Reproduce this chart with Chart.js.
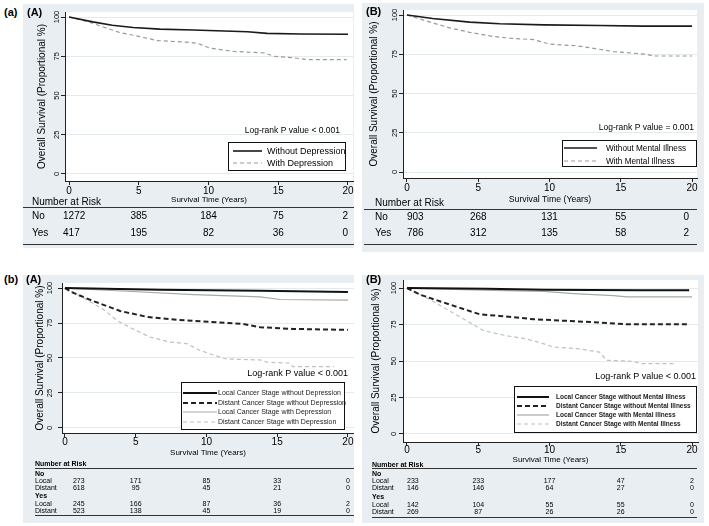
<!DOCTYPE html>
<html>
<head>
<meta charset="utf-8">
<script src="https://cdn.jsdelivr.net/npm/chart.js@4.4.1/dist/chart.umd.min.js"></script>
<style>
  body { margin: 0; width: 709px; height: 526px; background: #fff; position: relative; overflow: hidden;
         font-family: "Liberation Sans", Arial, sans-serif; }
  canvas { position: absolute; background: #e8eef1; }
  .tag { position: absolute; font: bold 11px "Liberation Sans", Arial, sans-serif; color: #000; }
</style>
</head>
<body>
<div class="tag" style="left:4px;top:6px">(a)</div>
<div class="tag" style="left:4px;top:273px">(b)</div>
<canvas id="cAA" width="331" height="244" style="left:23px;top:4px"></canvas>
<canvas id="cAB" width="342" height="249" style="left:362px;top:3px"></canvas>
<canvas id="cBA" width="331" height="248" style="left:23px;top:275px"></canvas>
<canvas id="cBB" width="342" height="248" style="left:362px;top:275px"></canvas>
<div class="tag" style="left:27px;top:6px">(A)</div>
<div class="tag" style="left:366px;top:5px">(B)</div>
<div class="tag" style="left:26px;top:273px">(A)</div>
<div class="tag" style="left:366px;top:273px">(B)</div>

<script>
// axes
var xTicks = [0, 5, 10, 15, 20];
var yTicks = [0, 25, 50, 75, 100];

// (a)(A) depression
var aaTimeNo  = [0, 1.7, 3.1, 4.6, 6.5, 8.9, 12.8, 14.2, 16.6, 20];
var aaSurvNo  = [100, 96.9, 94.8, 93.3, 92.3, 91.7, 90.6, 89.6, 89.2, 89];
var aaTimeYes = [0, 1.4, 2.4, 3.6, 5.1, 6.3, 8.4, 9.2, 10.1, 11.8, 14, 14.7, 16.1, 17.1, 19.9];
var aaSurvYes = [100, 96.9, 93.8, 90.2, 87.5, 85, 84, 83.3, 80.2, 78.1, 77.1, 75, 74, 72.9, 72.9];
var aaRiskNo  = [1272, 385, 184, 75, 2];
var aaRiskYes = [417, 195, 82, 36, 0];

// (a)(B) mental illness
var abTimeNo  = [0, 1.8, 4.4, 6.5, 9.6, 13.5, 16.6, 20];
var abSurvNo  = [100, 97.8, 95.5, 94.4, 93.75, 93.3, 92.9, 92.9];
var abTimeYes = [0, 1.4, 3, 4.4, 6, 7.2, 8.9, 10, 11.9, 13, 14.5, 16.8, 17.3, 20];
var abSurvYes = [100, 96.1, 91.8, 89, 86.4, 85.3, 84.3, 81.5, 80.4, 78.9, 76.7, 75, 73.9, 73.9];
var abRiskNo  = [903, 268, 131, 55, 0];
var abRiskYes = [786, 312, 135, 58, 2];

// (b)(A) stage x depression
var baTimeLocNo  = [0, 6.7, 13.8, 20];
var baSurvLocNo  = [100, 98.8, 98.1, 97.2];
var baTimeDisNo  = [0, 0.6, 2, 3.9, 5.8, 7.9, 10.2, 12.6, 13.8, 16.1, 20];
var baSurvDisNo  = [100, 96.5, 90.7, 83.6, 79.4, 77.3, 75.9, 74.3, 72, 70.8, 70.1];
var baTimeLocYes = [0, 4.4, 9.1, 13.8, 15.2, 20];
var baSurvLocYes = [100, 97.7, 95.3, 93.7, 91.8, 91.4];
var baTimeDisYes = [0, 1.5, 2.7, 3.7, 4.8, 6, 7.4, 8.6, 9.5, 10.5, 11.4, 13.8, 14.3, 15.9, 16.1, 19];
var baSurvDisYes = [100, 91.8, 84.8, 76.6, 70.8, 65, 61.4, 60.3, 55.6, 52.1, 49.3, 48.6, 47, 46.3, 43.9, 43.9];
var baRiskNoLoc  = [273, 171, 85, 33, 0];
var baRiskNoDis  = [618, 95, 45, 21, 0];
var baRiskYesLoc = [245, 166, 87, 36, 2];
var baRiskYesDis = [523, 138, 45, 19, 0];

// (b)(B) stage x mental illness
var bbTimeLocNo  = [0, 5.6, 9.6, 16.4, 19.8];
var bbSurvLocNo  = [100, 99.5, 98.9, 98.4, 98.4];
var bbTimeDisNo  = [0, 0.9, 3, 5.1, 6.5, 8.9, 11.2, 13.5, 15.4, 19.8];
var bbSurvDisNo  = [100, 95.5, 88.7, 82, 80.9, 78.6, 77.5, 76.4, 75.2, 75.2];
var bbTimeLocYes = [0, 6, 9.6, 11.7, 14.5, 15.4, 20];
var bbSurvLocYes = [100, 98.4, 97.7, 96.2, 94.8, 93.9, 93.9];
var bbTimeDisYes = [0, 1.4, 3, 4.2, 5.4, 7, 8.4, 9.1, 10.3, 12.1, 13.5, 14, 15.9, 16.4, 18.9];
var bbSurvDisYes = [100, 93.2, 84.2, 77.5, 70.7, 67.3, 65.1, 63.3, 59.5, 58.3, 56.1, 50.5, 49.8, 48.2, 48.2];
var bbRiskNoLoc  = [233, 233, 177, 47, 2];
var bbRiskNoDis  = [146, 146, 64, 27, 0];
var bbRiskYesLoc = [142, 104, 55, 55, 0];
var bbRiskYesDis = [269, 87, 26, 26, 0];

var FONT = '"Liberation Sans", Arial, sans-serif';

function pts(t, s) {
    return t.map(function (v, i) { return { x: v, y: s[i] }; });
}

function line(label, t, s, color, width, dash) {
    return { label: label, data: pts(t, s), borderColor: color, borderWidth: width,
             borderDash: dash || [], pointRadius: 0, fill: false, tension: 0 };
}

// legend box, p-value text and number-at-risk table, drawn after the chart
function extrasPlugin(o) {
    return {
        id: 'kmExtras',
        beforeDraw: function (chart) {
            var a = chart.chartArea, c = chart.ctx;
            c.save();
            c.fillStyle = '#fff';
            c.fillRect(a.left, a.top, a.right - a.left, a.bottom - a.top);
            c.restore();
        },
        afterDraw: function (chart) {
            var c = chart.ctx, xs = chart.scales.x;
            c.save();
            c.textBaseline = 'middle';

            // p value
            c.fillStyle = '#000';
            c.font = o.pSize + 'px ' + FONT;
            c.textAlign = 'right';
            c.fillText(o.pText, o.pX, o.pY);

            // legend
            var L = o.legend;
            c.fillStyle = '#fff';
            c.fillRect(L.x, L.y, L.w, L.h);
            c.strokeStyle = '#111';
            c.lineWidth = 1;
            c.strokeRect(L.x + 0.5, L.y + 0.5, L.w, L.h);
            c.font = L.font + FONT;
            c.textAlign = 'left';
            chart.data.datasets.forEach(function (ds, i) {
                var y = L.rows[i];
                c.beginPath();
                c.setLineDash(ds.borderDash);
                c.strokeStyle = ds.borderColor;
                c.lineWidth = ds.borderWidth;
                c.moveTo(L.x1, y);
                c.lineTo(L.x2, y);
                c.stroke();
                c.setLineDash([]);
                c.fillStyle = L.color || '#000';
                c.fillText(ds.label, L.tx, y + 0.5);
            });

            // number at risk table
            var T = o.table;
            c.fillStyle = '#000';
            c.font = T.headFont + FONT;
            c.textAlign = 'left';
            c.fillText('Number at Risk', T.labelX, T.headY);
            c.strokeStyle = '#333';
            c.lineWidth = 1;
            c.beginPath();
            c.moveTo(T.x1, T.lineY + 0.5); c.lineTo(T.x2, T.lineY + 0.5);
            c.moveTo(T.x1, T.bottomY + 0.5); c.lineTo(T.x2, T.bottomY + 0.5);
            c.stroke();
            T.rows.forEach(function (r) {
                c.font = (r.bold ? 'bold ' : '') + T.font + FONT;
                c.textAlign = 'left';
                c.fillText(r.label, T.labelX, r.y);
                if (!r.values) return;
                c.font = T.font + FONT;
                r.values.forEach(function (v, j) {
                    var px = xs.getPixelForValue(xTicks[j]);
                    if (j === 0) { c.textAlign = 'left'; px += T.firstOff; }
                    else if (j === r.values.length - 1) { c.textAlign = 'right'; px += T.lastOff; }
                    else c.textAlign = 'center';
                    c.fillText(String(v), px, r.y);
                });
            });
            c.restore();
        }
    };
}

function kmChart(id, datasets, o) {
    return new Chart(document.getElementById(id), {
        type: 'line',
        data: { datasets: datasets },
        options: {
            responsive: false,
            animation: false,
            layout: { padding: o.pad },
            plugins: { legend: { display: false }, tooltip: { enabled: false } },
            scales: {
                x: {
                    type: 'linear', min: o.xMin, max: o.xMax,
                    afterBuildTicks: function (s) { s.ticks = xTicks.map(function (v) { return { value: v }; }); },
                    afterFit: function (s) { s.height = 28; },
                    grid: { drawOnChartArea: false, tickLength: 4, tickColor: '#222' },
                    border: { color: '#222', width: 1 },
                    ticks: { color: '#000', font: { family: FONT, size: 10 }, padding: o.xTickPad, maxRotation: 0 },
                    title: { display: true, text: 'Survival Time (Years)', color: '#000',
                             font: { family: FONT, size: o.xTitleSize }, padding: { top: 0, bottom: o.xTitlePad } }
                },
                y: {
                    type: 'linear', min: o.yMin, max: o.yMax,
                    afterBuildTicks: function (s) { s.ticks = yTicks.map(function (v) { return { value: v }; }); },
                    afterFit: function (s) { s.width = o.yW; },
                    grid: { color: '#e3ebee', tickColor: '#222', tickLength: 4 },
                    border: { color: '#222', width: 1 },
                    ticks: { color: '#000', font: { family: FONT, size: 7.5 }, padding: o.yTickPad,
                             minRotation: 90, maxRotation: 90, crossAlign: 'center' },
                    title: { display: true, text: 'Overall Survival (Proportional %)', color: '#000',
                             font: { family: FONT, size: 10 }, padding: { top: 4, bottom: 0 } }
                }
            }
        },
        plugins: [extrasPlugin(o)]
    });
}

// (a)(A)
kmChart('cAA', [
    line('Without Depression', aaTimeNo, aaSurvNo, '#1a1a1a', 1.6),
    line('With Depression', aaTimeYes, aaSurvYes, '#9a9a9a', 1.2, [4, 3])
], {
    pad: { left: 9, right: 1, top: 8, bottom: 39 }, yW: 33,
    xMin: -0.29, xMax: 20.36, yMin: -4.5, yMax: 103.2,
    xTickPad: 0, xTitleSize: 8, xTitlePad: 4, yTickPad: -2,
    pText: 'Log-rank P value < 0.001', pSize: 8.5, pX: 317, pY: 127,
    legend: { x: 205, y: 138, w: 117, h: 28, rows: [147, 159], x1: 210, x2: 239, tx: 244, font: '9px ' },
    table: { headFont: '10px ', font: '10px ', labelX: 9, headY: 198, lineY: 203, bottomY: 240, x1: 0, x2: 331,
             firstOff: -6, lastOff: 0,
             rows: [ { label: 'No', y: 212, values: aaRiskNo }, { label: 'Yes', y: 229, values: aaRiskYes } ] }
});

// (a)(B)
kmChart('cAB', [
    line('Without Mental Illness', abTimeNo, abSurvNo, '#1a1a1a', 1.6),
    line('With Mental Illness', abTimeYes, abSurvYes, '#9a9a9a', 1.2, [4, 3])
], {
    pad: { left: 2, right: 7, top: 7, bottom: 46 }, yW: 39,
    xMin: -0.28, xMax: 20.35, yMin: -3.8, yMax: 103.2,
    xTickPad: 0, xTitleSize: 8.7, xTitlePad: 1, yTickPad: -2,
    pText: 'Log-rank P value = 0.001', pSize: 8.5, pX: 332, pY: 125,
    legend: { x: 200, y: 137, w: 134, h: 26, rows: [145, 158], x1: 202, x2: 235, tx: 244, font: '8.2px ' },
    table: { headFont: '10px ', font: '10px ', labelX: 13, headY: 200, lineY: 206, bottomY: 241, x1: 2, x2: 335,
             firstOff: 0, lastOff: -3,
             rows: [ { label: 'No', y: 214, values: abRiskNo }, { label: 'Yes', y: 230, values: abRiskYes } ] }
});

// (b)(A)
kmChart('cBA', [
    line('Local Cancer Stage without Depression', baTimeLocNo, baSurvLocNo, '#111', 2),
    line('Distant Cancer Stage without Depression', baTimeDisNo, baSurvDisNo, '#222', 2, [5, 3]),
    line('Local Cancer Stage with Depression', baTimeLocYes, baSurvLocYes, '#a8a8a8', 1.2),
    line('Distant Cancer Stage with Depression', baTimeDisYes, baSurvDisYes, '#c0c0c0', 1.2, [4, 3])
], {
    pad: { left: 7, right: 0, top: 8, bottom: 62 }, yW: 32,
    xMin: -0.21, xMax: 20.43, yMin: -3.6, yMax: 103.6,
    xTickPad: -1, xTitleSize: 8, xTitlePad: 3, yTickPad: 2,
    pText: 'Log-rank P value < 0.001', pSize: 9, pX: 325, pY: 99,
    legend: { x: 158, y: 107, w: 163, h: 47, rows: [118, 128, 137, 147], x1: 160, x2: 194, tx: 195,
              font: '7px ', color: '#222' },
    table: { headFont: 'bold 7px ', font: '7px ', labelX: 12, headY: 189, lineY: 193, bottomY: 240, x1: 12, x2: 331,
             firstOff: 8, lastOff: 2,
             rows: [ { label: 'No', bold: true, y: 199 },
                     { label: 'Local', y: 206, values: baRiskNoLoc },
                     { label: 'Distant', y: 213, values: baRiskNoDis },
                     { label: 'Yes', bold: true, y: 221 },
                     { label: 'Local', y: 229, values: baRiskYesLoc },
                     { label: 'Distant', y: 236, values: baRiskYesDis } ] }
});

// (b)(B)
kmChart('cBB', [
    line('Local Cancer Stage without Mental Illness', bbTimeLocNo, bbSurvLocNo, '#111', 2),
    line('Distant Cancer Stage without Mental Illness', bbTimeDisNo, bbSurvDisNo, '#222', 2, [5, 3]),
    line('Local Cancer Stage with Mental Illness', bbTimeLocYes, bbSurvLocYes, '#a8a8a8', 1.2),
    line('Distant Cancer Stage with Mental Illness', bbTimeDisYes, bbSurvDisYes, '#c0c0c0', 1.2, [4, 3])
], {
    pad: { left: 4, right: 6, top: 5, bottom: 53 }, yW: 37,
    xMin: -0.28, xMax: 20.42, yMin: -5.5, yMax: 105.5,
    xTickPad: -2, xTitleSize: 8, xTitlePad: 5, yTickPad: -1,
    pText: 'Log-rank P value < 0.001', pSize: 9, pX: 334, pY: 102,
    legend: { x: 152, y: 111, w: 182, h: 46, rows: [122, 131, 140, 149], x1: 155, x2: 187, tx: 194,
              font: 'bold 6.5px ', color: '#222' },
    table: { headFont: 'bold 7px ', font: '7px ', labelX: 10, headY: 190, lineY: 193, bottomY: 242, x1: 10, x2: 335,
             firstOff: 0, lastOff: 2,
             rows: [ { label: 'No', bold: true, y: 199 },
                     { label: 'Local', y: 206, values: bbRiskNoLoc },
                     { label: 'Distant', y: 213, values: bbRiskNoDis },
                     { label: 'Yes', bold: true, y: 222 },
                     { label: 'Local', y: 230, values: bbRiskYesLoc },
                     { label: 'Distant', y: 237, values: bbRiskYesDis } ] }
});
</script>
</body>
</html>
